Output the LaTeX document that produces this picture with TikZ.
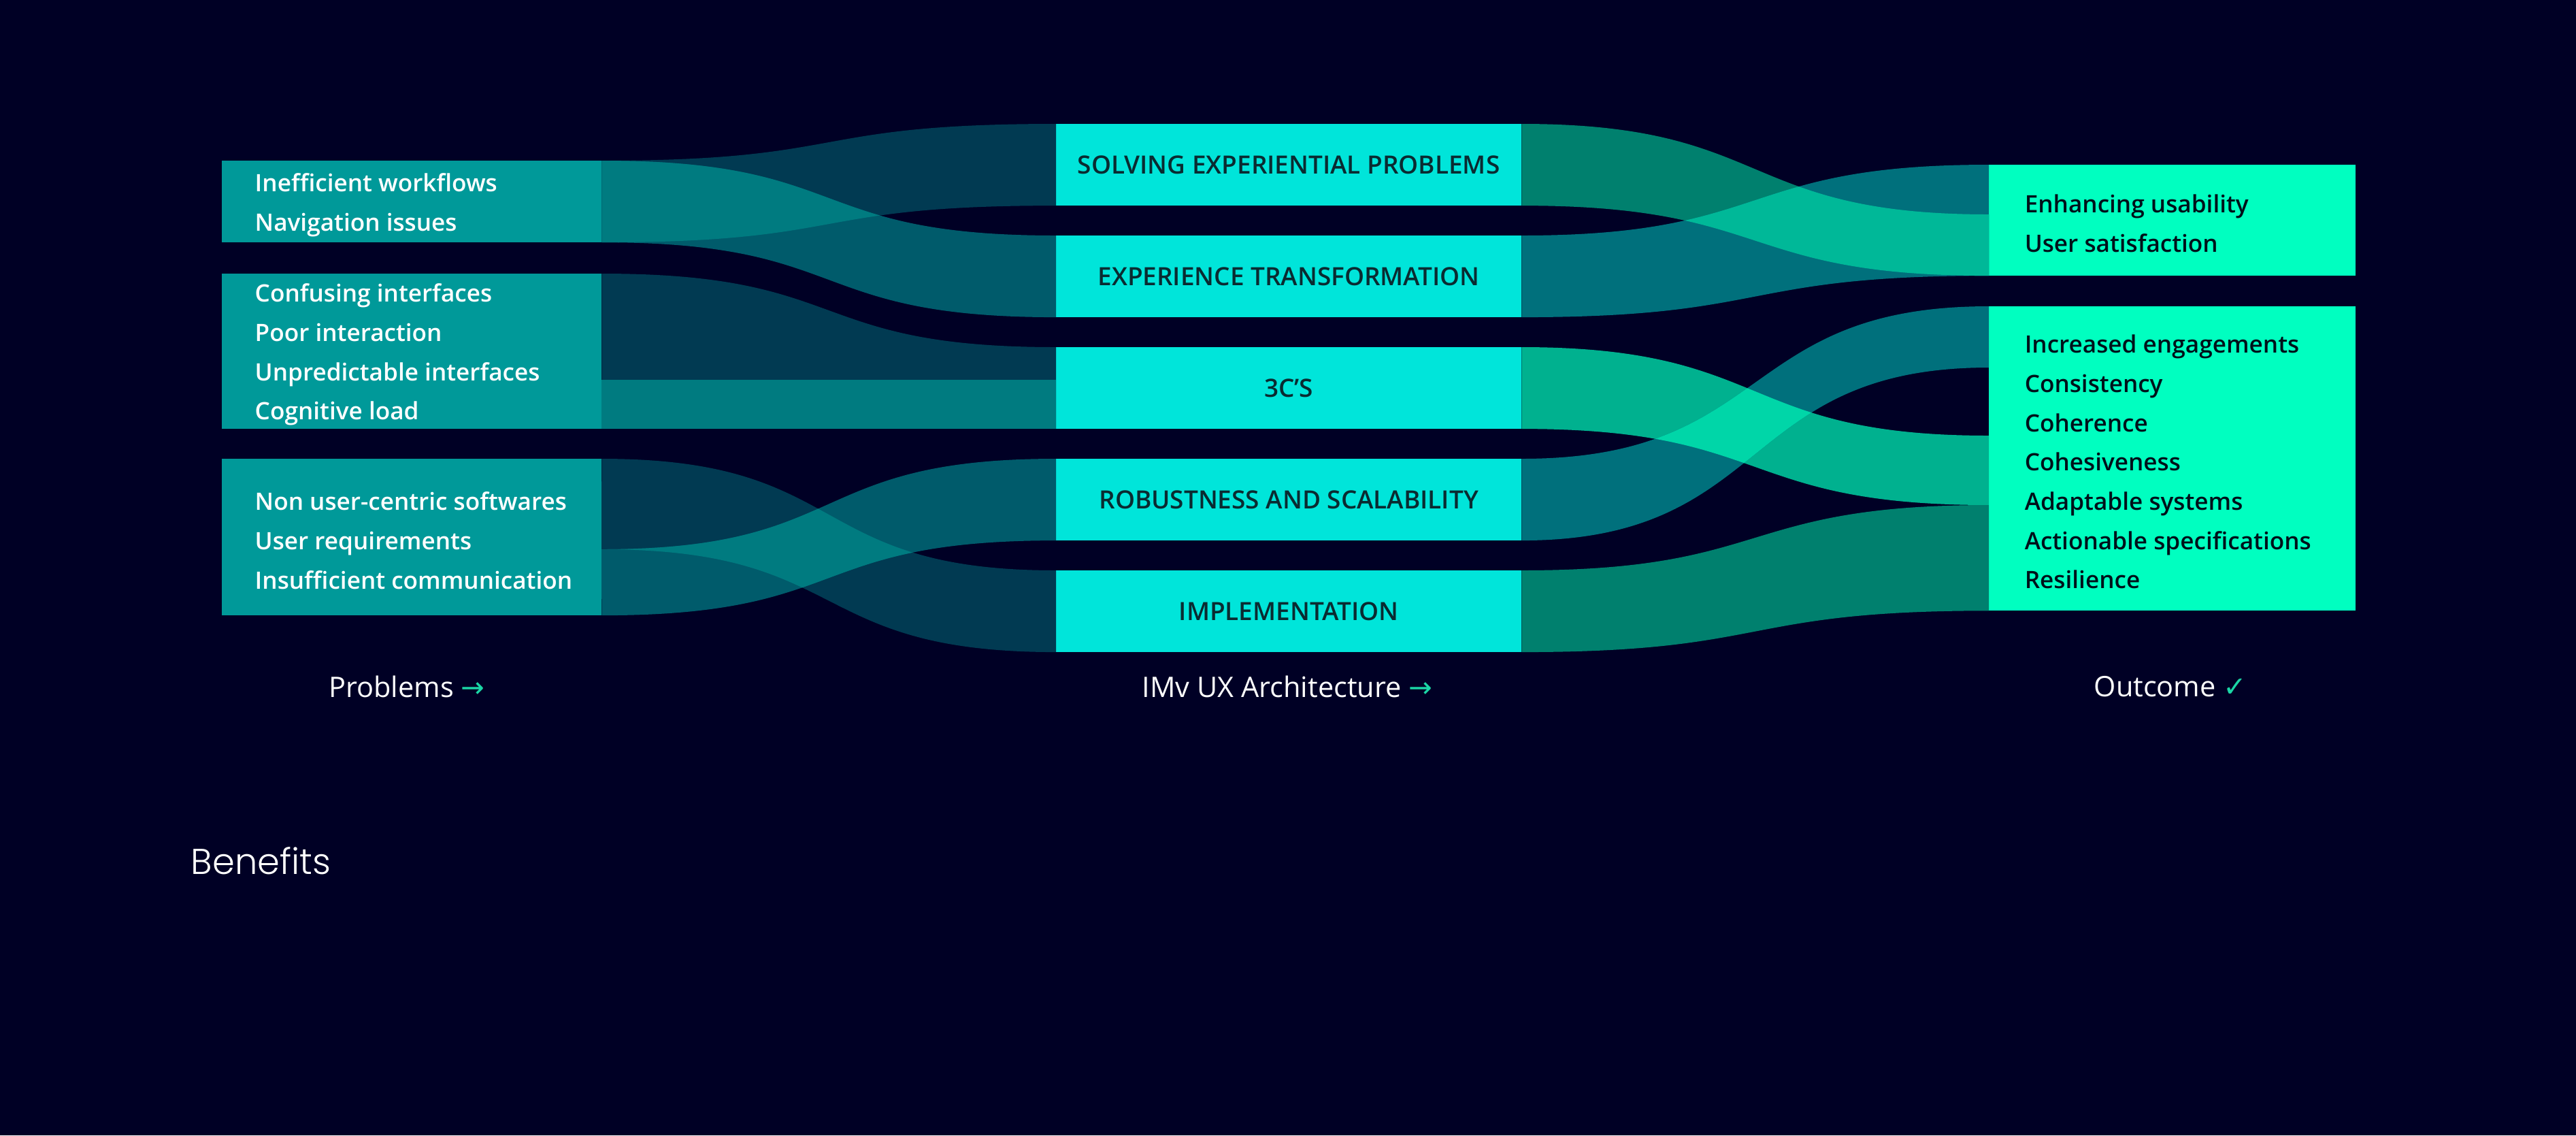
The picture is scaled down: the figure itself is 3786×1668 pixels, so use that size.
\documentclass[tikz,border=0pt]{standalone}
\usepackage{fontspec}
\setmainfont{Open Sans}
\IfFontExistsTF{Open Sans Semibold}
  {\newfontfamily\semifont{Open Sans Semibold}}
  {\newfontfamily\semifont{Open Sans}[FakeBold=1.2]}
\IfFontExistsTF{Poppins Light}
  {\newfontfamily\headfont{Poppins Light}}
  {\newfontfamily\headfont{Poppins}}
\newfontfamily\tickfont{DejaVu Sans}
\usepackage{xcolor}
\usepackage{tikz}
\definecolor{night}{HTML}{000025}
\definecolor{probfill}{HTML}{009999}
\definecolor{archfill}{HTML}{00E5DA}
\definecolor{outfill}{HTML}{00FFC0}
\definecolor{flowdeep}{HTML}{013A52}
\definecolor{flowmid}{HTML}{005B6B}
\definecolor{flowmix}{HTML}{007B80}
\definecolor{greendeep}{HTML}{00806E}
\definecolor{tealflow}{HTML}{00707C}
\definecolor{greenlight}{HTML}{00B18F}
\definecolor{greenmix}{HTML}{00B898}
\definecolor{greenglow}{HTML}{00D6A8}
\definecolor{archink}{HTML}{0A2B31}
\definecolor{outink}{HTML}{00111A}
\definecolor{tickgreen}{HTML}{1BD6A6}
\newcommand{\bandpath}[4]{(#1) .. controls +(370,0) and +(-370,0) .. (#2) -- (#3) .. controls +(-370,0) and +(370,0) .. (#4) -- cycle}

\begin{document}
\begin{tikzpicture}[x=0.01cm, y=-0.01cm,
    probbox/.style={fill=probfill, anchor=north west, minimum width=5.58cm, inner sep=0pt, outer sep=0pt},
    archbox/.style={fill=archfill, text=archink, anchor=north west, minimum width=6.84cm, minimum height=1.2cm, inner sep=0pt, outer sep=0pt, font=\semifont\fontsize{10.5}{12}\selectfont},
    outbox/.style={fill=outfill, anchor=north west, minimum width=5.39cm, inner sep=0pt, outer sep=0pt},
    itemlist/.style={anchor=west, align=left, inner sep=0pt, yshift=-0.05cm, font=\semifont\fontsize{10}{16.4}\selectfont},
    caption/.style={text=white, inner sep=0pt, font=\fontsize{11.8}{14}\selectfont}]
  % background, fixes the bounding box
  \fill[night] (0,0) rectangle (3786,1668);

  % problems
  \node[probbox, minimum height=1.2cm] (L1) at (326,236) {};
  \node[probbox, minimum height=2.28cm] (L2) at (326,402) {};
  \node[probbox, minimum height=2.3cm] (L3) at (326,674) {};
  % architecture
  \node[archbox] (M1) at (1552,182) {SOLVING EXPERIENTIAL PROBLEMS};
  \node[archbox] (M2) at (1552,346) {EXPERIENCE TRANSFORMATION};
  \node[archbox] (M3) at (1552,510) {3C’S};
  \node[archbox] (M4) at (1552,674) {ROBUSTNESS AND SCALABILITY};
  \node[archbox] (M5) at (1552,838) {IMPLEMENTATION};
  % outcome
  \node[outbox, minimum height=1.63cm] (R1) at (2923,242) {};
  \node[outbox, minimum height=4.47cm] (R2) at (2923,450) {};

  \node[itemlist, text=white] (L1t) at ([xshift=0.48cm]L1.west) {Inefficient workflows\\Navigation issues};
  \node[itemlist, text=white] (L2t) at ([xshift=0.48cm]L2.west) {Confusing interfaces\\Poor interaction\\Unpredictable interfaces\\Cognitive load};
  \node[itemlist, text=white] (L3t) at ([xshift=0.48cm]L3.west) {Non user-centric softwares\\User requirements\\Insufficient communication};
  \node[itemlist, text=outink] (R1t) at ([xshift=0.52cm]R1.west) {Enhancing usability\\User satisfaction};
  \node[itemlist, text=outink] (R2t) at ([xshift=0.52cm]R2.west) {Increased engagements\\Consistency\\Coherence\\Cohesiveness\\Adaptable systems\\Actionable specifications\\Resilience};

  % split points on the box edges
  \coordinate (L2m) at (884,558);
  \coordinate (L3m) at (884,807);
  \coordinate (R1m) at (2923,315);
  \coordinate (R2a) at (2923,540);
  \coordinate (R2b) at (2923,640);
  \coordinate (R2c) at (2923,742);

  % problems -> architecture
  \fill[flowdeep] \bandpath{L1.north east}{M1.north west}{M1.south west}{L1.south east};
  \fill[flowmid] \bandpath{L1.north east}{M2.north west}{M2.south west}{L1.south east};
  \begin{scope}
    \clip \bandpath{L1.north east}{M1.north west}{M1.south west}{L1.south east};
    \fill[flowmix] \bandpath{L1.north east}{M2.north west}{M2.south west}{L1.south east};
  \end{scope}
  \fill[flowdeep] \bandpath{L2.north east}{M3.north west}{M3.south west}{L2.south east};
  \fill[flowmix] (L2m) rectangle (M3.south west);
  \fill[flowdeep] \bandpath{L3.north east}{M5.north west}{M5.south west}{L3m};
  \fill[flowmid] \bandpath{L3m}{M4.north west}{M4.south west}{L3.south east};
  \begin{scope}
    \clip \bandpath{L3.north east}{M5.north west}{M5.south west}{L3m};
    \fill[flowmix] \bandpath{L3m}{M4.north west}{M4.south west}{L3.south east};
  \end{scope}

  % architecture -> outcome
  \fill[greendeep] \bandpath{M1.north east}{R1m}{R1.south west}{M1.south east};
  \fill[tealflow] \bandpath{M2.north east}{R1.north west}{R1.south west}{M2.south east};
  \begin{scope}
    \clip \bandpath{M1.north east}{R1m}{R1.south west}{M1.south east};
    \fill[greenmix] \bandpath{M2.north east}{R1.north west}{R1.south west}{M2.south east};
  \end{scope}
  \fill[greenlight] \bandpath{M3.north east}{R2b}{R2c}{M3.south east};
  \fill[tealflow] \bandpath{M4.north east}{R2.north west}{R2a}{M4.south east};
  \begin{scope}
    \clip \bandpath{M3.north east}{R2b}{R2c}{M3.south east};
    \fill[greenglow] \bandpath{M4.north east}{R2.north west}{R2a}{M4.south east};
  \end{scope}
  \fill[greendeep] \bandpath{M5.north east}{R2c}{R2.south west}{M5.south east};

  % column captions
  \node[caption] (capP) at (598,1009) {Problems~{\tickfont\color{tickgreen}→}};
  \node[caption] (capA) at (1892,1009) {IMv UX Architecture~{\tickfont\color{tickgreen}→}};
  \node[caption] (capO) at (3190,1009) {Outcome~{\tickfont\color{tickgreen}✓}};
  \node[anchor=west, text=white, inner sep=0pt, font=\headfont\fontsize{15}{18}\selectfont] (benefits) at (280,1265) {Benefits};
\end{tikzpicture}
\end{document}
